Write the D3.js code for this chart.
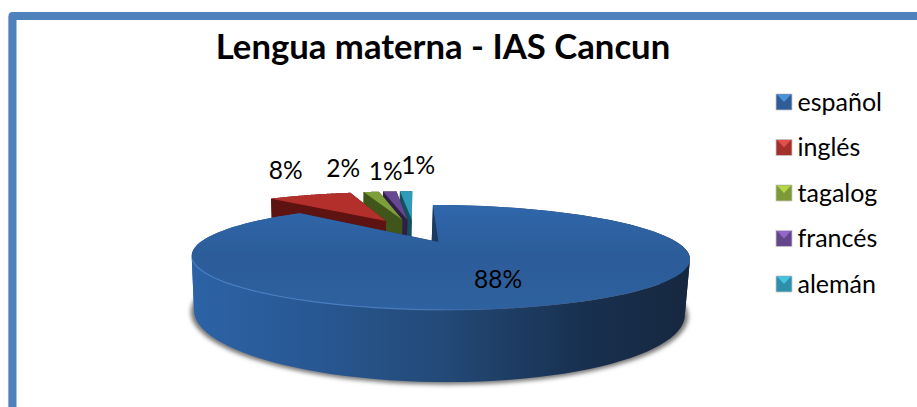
<!DOCTYPE html>
<html>
<head>
<meta charset="utf-8">
<script src="https://cdn.jsdelivr.net/npm/d3@7"></script>
<style>
  html, body { margin: 0; padding: 0; background: #fff; overflow: hidden; }
  text { font-family: Lato, "Open Sans", sans-serif; fill: #000; }
</style>
</head>
<body>
<div id="chart"></div>
<script>
const languages = ["español", "inglés", "tagalog", "francés", "alemán"];
const shares = [88, 8, 1.5, 1.3, 1.2];

const faceColors = ["#2d5f9f", "#b32f2c", "#7e9f38", "#67478f", "#2f9bb8"];
const wallColors = ["#1d3a60", "#5c1311", "#3f5519", "#2f1f47", "#15505f"];
const markerLight = ["#4c93d8", "#e2504c", "#b6d64c", "#9468c8", "#46c3e0"];
const markerDark = ["#2f5d98", "#a52f2c", "#7d9a38", "#63468c", "#2d8fa9"];

// label nudges from the slice's outer edge, not data
const labelNudge = [[-11, 13], [-24, -16], [-28, -15], [-4, -11], [12, -17]];

const width = 917;
const height = 407;

// the tilted pie plane, a circle of radius 1 seen in perspective
const centerX = 414;
const topY = 230.4, topScale = 41.3;
const bottomY = 276.8, bottomScale = 54.7;
const radiusX = 221;
const tilt = 0.274;
const explode = 0.28;

const project = (u, v, depth) => {
  const w = 1 - tilt * v;
  return depth
    ? [centerX - 1 + radiusX * 0.985 * u / w, bottomY + bottomScale * v / w]
    : [centerX + radiusX * u / w, topY + topScale * v / w];
};

const svg = d3.select("#chart").append("svg")
  .attr("width", width)
  .attr("height", height)
  .style("display", "block");

const defs = svg.append("defs");

defs.append("filter").attr("id", "soft")
  .attr("x", "-5%").attr("y", "-5%").attr("width", "110%").attr("height", "110%")
  .append("feGaussianBlur").attr("stdDeviation", 2);

const addGradient = (id, x1, y1, x2, y2, stops) => {
  const g = defs.append("linearGradient").attr("id", id)
    .attr("gradientUnits", "userSpaceOnUse")
    .attr("x1", x1).attr("y1", y1).attr("x2", x2).attr("y2", y2);
  stops.forEach(([o, c, a]) => g.append("stop").attr("offset", o).attr("stop-color", c).attr("stop-opacity", a === undefined ? 1 : a));
};

addGradient("mainFace", 0, 205, 0, 310, [[0, "#2f67ab"], [0.5, "#2c5c99"], [1, "#2e619f"]]);
addGradient("mainWall", 191, 0, 689, 0, [[0, "#2c63a6"], [0.2, "#295a97"], [0.5, "#234a78"], [0.8, "#182f4e"], [1, "#16283f"]]);
addGradient("mainRim", 191, 0, 689, 0, [[0, "#4a82c8", 0.9], [0.45, "#4a82c8", 0.8], [0.62, "#4a82c8", 0], [1, "#4a82c8", 0]]);

const line = d3.line();

const pie = d3.pie().sort(null).startAngle(0).endAngle(2 * Math.PI);
const arcs = pie(shares);

const slices = arcs.map((a, i) => {
  const mid = (a.startAngle + a.endAngle) / 2;
  const ox = explode * Math.sin(mid);
  const oy = -explode * Math.cos(mid);
  const angles = d3.range(0, 121).map(k => a.startAngle + (a.endAngle - a.startAngle) * k / 120);
  const rim = depth => angles.map(t => project(ox + Math.sin(t), oy - Math.cos(t), depth));
  return {
    i, mid, ox, oy,
    apex: project(ox, oy, false),
    apexLow: project(ox, oy, true),
    top: rim(false),
    low: rim(true)
  };
});

// frame, open at the right and the bottom like the cropped original
svg.append("path")
  .attr("d", "M8.5,407V16")
  .attr("fill", "none").attr("stroke", "#c6d4e8").attr("stroke-width", 1);
svg.append("path")
  .attr("d", `M12.5,407V16H${width}`)
  .attr("fill", "none").attr("stroke", "#4f81bd").attr("stroke-width", 8)
  .attr("stroke-linejoin", "round");

// shadow under the big slice
svg.append("path")
  .attr("d", line(d3.range(0, 181).map(k => {
    const t = k / 180 * 2 * Math.PI;
    const p = project(slices[0].ox + 1.012 * Math.sin(t), slices[0].oy - 1.012 * Math.cos(t), true);
    return [p[0], p[1] + 1];
  })) + "Z")
  .attr("fill", "#777")
  .attr("filter", "url(#soft)");

// split a rim where it turns round in x, so a wall polygon never folds over itself
const wallPieces = s => {
  const cuts = [0];
  for (let k = 1; k < s.top.length - 1; k++) {
    if ((s.top[k][0] - s.top[k - 1][0]) * (s.top[k + 1][0] - s.top[k][0]) < 0) cuts.push(k);
  }
  cuts.push(s.top.length - 1);
  return d3.pairs(cuts).map(([a, b]) =>
    s.top.slice(a, b + 1).concat(s.low.slice(a, b + 1).reverse()));
};

// small slices first, back to front, the big one on top
const order = slices.slice(1).reverse().concat(slices[0]);

order.forEach(s => {
  const main = s.i === 0;
  const g = svg.append("g");
  const wallFill = main ? "url(#mainWall)" : wallColors[s.i];

  // outer wall
  wallPieces(s).forEach(poly => {
    g.append("path")
      .attr("d", line(poly) + "Z")
      .attr("fill", wallFill);
  });

  // cut faces
  g.append("path")
    .attr("d", line([s.top[0], s.apex, s.apexLow, s.low[0]]) + "Z")
    .attr("fill", wallColors[s.i]);
  g.append("path")
    .attr("d", line([s.top[s.top.length - 1], s.apex, s.apexLow, s.low[s.low.length - 1]]) + "Z")
    .attr("fill", wallColors[s.i]);

  // top face
  g.append("path")
    .attr("d", line([s.apex].concat(s.top)) + "Z")
    .attr("fill", main ? "url(#mainFace)" : faceColors[s.i]);

  // light edge on the front of the rim only
  if (main) {
    g.append("path")
      .attr("d", line(s.top.filter(p => p[1] > 258)))
      .attr("fill", "none")
      .attr("stroke", "url(#mainRim)")
      .attr("stroke-width", 1.2);
  }
});

// title
svg.append("text")
  .attr("x", 443).attr("y", 59)
  .attr("text-anchor", "middle")
  .style("font-size", "34.7px")
  .style("font-weight", "bold")
  .text("Lengua materna - IAS Cancun");

// percent labels
const pct = d3.format(".0f");
slices.forEach(s => {
  const inside = s.i === 0;
  const r = inside ? 0.62 : 1;
  const p = project(s.ox + r * Math.sin(s.mid), s.oy - r * Math.cos(s.mid), false);
  svg.append("text")
    .attr("x", p[0] + labelNudge[s.i][0])
    .attr("y", p[1] + labelNudge[s.i][1])
    .attr("text-anchor", "middle")
    .style("font-size", "24.5px")
    .text(pct(shares[s.i]) + "%");
});

// legend
const legendY = d3.scalePoint().domain(languages).range([102, 284]);
const legend = svg.selectAll(".legend-row")
  .data(languages)
  .enter()
  .append("g")
  .attr("class", "legend-row")
  .attr("transform", d => `translate(776,${legendY(d)})`);

legend.append("rect")
  .attr("x", 0).attr("y", -8).attr("width", 16).attr("height", 16)
  .attr("fill", (d, i) => markerDark[i])
  .attr("stroke", "#c8c8c8").attr("stroke-width", 0.8);
legend.append("path")
  .attr("d", "M1,-7.5L15,-7.5L8,0Z")
  .attr("fill", (d, i) => markerLight[i]);

legend.append("text")
  .attr("x", 21.5).attr("y", 8.5)
  .style("font-size", "25px")
  .text(d => d);
</script>
</body>
</html>
